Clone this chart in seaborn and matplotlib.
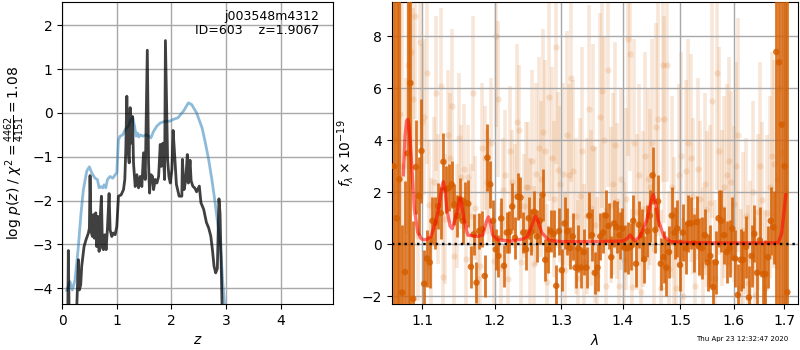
import numpy as np
import matplotlib
matplotlib.use('Agg')
import matplotlib.pyplot as plt
import seaborn as sns
from matplotlib.ticker import FixedLocator, FormatStrFormatter, NullLocator, NullFormatter

# ---------------- left panel: redshift probability ----------------
z_pz = [0.100, 0.110, 0.125, 0.260, 0.294, 0.312, 0.337, 0.355, 0.398, 0.435,
        0.478, 0.496, 0.508, 0.527, 0.551, 0.570, 0.588, 0.612, 0.631, 0.649,
        0.674, 0.692, 0.716, 0.735, 0.753, 0.778, 0.802, 0.827, 0.857, 0.876,
        0.906, 0.937, 0.968, 0.998, 1.029, 1.078, 1.121, 1.145, 1.163, 1.182,
        1.200, 1.225, 1.243, 1.261, 1.286, 1.304, 1.335, 1.366, 1.396, 1.427,
        1.457, 1.488, 1.519, 1.557, 1.580, 1.598, 1.623, 1.653, 1.672, 1.702,
        1.733, 1.764, 1.794, 1.813, 1.843, 1.874, 1.889, 1.929, 1.953, 1.978,
        2.008, 2.030, 2.060, 2.090, 2.140, 2.190, 2.200, 2.230, 2.260, 2.290,
        2.310, 2.340, 2.360, 2.390, 2.430, 2.460, 2.510, 2.540, 2.590, 2.640,
        2.680, 2.720, 2.750, 2.780, 2.810, 2.840, 2.870, 2.890, 2.910, 2.930]
logp_pz = [-4.6, -3.14, -4.6, -4.6, -3.35, -4.04, -3.92, -3.50, -3.05, -2.89,
           -2.74, -2.63, -1.43, -2.70, -2.82, -2.32, -2.86, -2.28, -3.05, -2.36,
           -3.16, -2.44, -1.90, -3.08, -3.12, -2.78, -3.12, -2.63, -1.84, -2.67,
           -2.82, -2.74, -2.78, -2.59, -1.90, -1.87, -1.75, -1.52, -0.84, 0.38,
           -0.76, -1.14, 0.12, -0.69, -0.08, -1.14, -1.68, -1.41, -1.71, -1.45,
           -1.68, -0.91, -1.52, 1.43, -1.14, -1.83, -1.41, -1.45, -1.75, -1.52,
           -1.60, -1.45, -0.72, -1.22, -0.69, -1.52, 1.65, -1.07, -1.45, -1.60,
           -1.29, -0.40, -1.00, -1.63, -1.90, -1.90, -1.06, -1.75, -1.55, -0.95,
           -1.60, -1.08, -1.55, -1.67, -1.72, -1.80, -1.67, -2.05, -2.20, -2.50,
           -2.62, -2.81, -3.12, -3.50, -3.65, -3.55, -1.96, -2.30, -3.42, -4.60]

z_chi = [0.080, 0.141, 0.184, 0.233, 0.294, 0.343, 0.386, 0.447, 0.496, 0.539,
         0.600, 0.643, 0.674, 0.704, 0.741, 0.765, 0.796, 0.827, 0.876, 0.925,
         0.968, 0.998, 1.029, 1.059, 1.108, 1.151, 1.212, 1.255, 1.292, 1.323,
         1.353, 1.378, 1.402, 1.427, 1.476, 1.537, 1.580, 1.623, 1.672, 1.733,
         1.794, 1.886, 1.970, 2.030, 2.120, 2.220, 2.310, 2.370, 2.460, 2.560,
         2.620, 2.680, 2.740, 2.800, 2.860, 2.910, 2.940, 2.970, 3.000]
logp_chi = [-4.05, -3.85, -4.04, -3.81, -3.05, -2.28, -1.75, -1.33, -1.23, -1.37,
            -1.49, -1.52, -1.71, -1.68, -1.71, -1.64, -1.71, -1.52, -1.45, -1.49,
            -1.41, -1.37, -0.61, -0.53, -0.50, -0.38, -0.30, -0.15, -0.11, -0.30,
            -0.53, -0.46, -0.55, -0.50, -0.53, -0.50, -0.53, -0.57, -0.42, -0.30,
            -0.23, -0.19, -0.19, -0.15, -0.11, 0.04, 0.23, 0.19, 0.00, -0.34,
            -0.68, -1.06, -1.52, -2.05, -2.66, -3.27, -3.88, -4.33, -4.90]

z_ticks = [0, 1, 2, 3, 4]
logp_ticks = [-4, -3, -2, -1, 0, 1, 2]
label_text = "j003548m4312\nID=603    z=1.9067"

# ---------------- right panel: spectrum ----------------
bin_range = (1.0631, 1.7068)
bin_flux = [3.0, 1.0, 2.5, -1.86, -1.07, 3.5, 6.2, -2.1, 2.97, 1.86,
            3.59, -1.52, -0.55, -0.7, 0.9, 0.83, 1.47, 1.2, 3.17, 2.1,
            2.17, 2.3, 1.53, 1.09, 1.73, 0.9, 1.6, 1.56, -0.87, 0.38,
            -1.48, 0.51, 0.58, -1.22, 3.33, 2.3, 0.9, -0.2, -0.45, 0.99,
            -0.83, 0.45, 0.47, 1.45, 0.25, 1.83, 1.8, 0.45, -0.2, 1.0,
            0.47, 1.25, 0.3, 0.9, 1.9, -0.6, -0.2, 0.5, 0.4, -1.6,
            0.5, -1.0, 0.8, 0.5, -0.15, 0.3, -0.9, -0.15, -0.9, -0.3,
            -0.9, 1.1, 0.35, -1.1, -0.9, 0.3, 0.45, 1.1, 0.7, -0.5,
            0.8, 0.65, 0.35, 0.6, -0.15, -0.15, -0.1, 0.9, -0.75, 0.75,
            0.35, -0.58, 0.5, 1.1, 2.65, 0.55, 1.65, -0.75, -0.5, -0.9,
            -0.3, 1.1, 0.45, 0.6, -0.8, 0.45, -0.15, 0.8, 0.8, 0.05,
            0.85, -0.1, -0.15, 0.35, -0.7, -0.45, -1.65, -0.7, 1.0, 0.9,
            0.35, -0.3, -0.15, 0.6, -0.55, -1.95, -0.6, -0.6, -0.1, -2.05,
            -0.45, 0.4, -1.1, 0.15, -1.15, -1.15, -0.5, 0.9, 0.65, 7.4,
            7.0, 4.6, 3.0, -1.85]
bin_err = [15, 15, 12, 2.6, 3.5, 15, 12, 3.0, 1.8, 1.5,
           2.0, 1.3, 1.1, 1.0, 0.9, 1.0, 0.9, 1.0, 1.1, 0.9,
           0.9, 0.9, 0.8, 0.8, 0.8, 0.9, 0.8, 0.9, 0.8, 0.8,
           0.8, 0.7, 0.7, 0.8, 1.3, 0.9, 0.8, 0.8, 0.8, 0.8,
           0.8, 0.8, 0.8, 0.9, 0.8, 0.9, 0.8, 0.8, 0.8, 0.8,
           0.9, 0.8, 1.0, 0.9, 1.0, 0.8, 0.9, 0.8, 0.9, 0.8,
           0.9, 0.8, 1.0, 0.9, 0.8, 0.9, 0.8, 0.9, 0.8, 0.9,
           0.8, 0.9, 1.0, 0.8, 0.9, 0.9, 0.8, 1.0, 0.9, 0.8,
           0.9, 1.0, 0.9, 0.8, 0.9, 1.0, 0.9, 1.0, 0.9, 0.9,
           1.0, 0.9, 1.0, 1.0, 1.1, 0.9, 1.0, 1.0, 1.0, 1.1,
           1.0, 1.1, 1.0, 1.1, 1.0, 1.1, 1.0, 1.1, 1.0, 1.1,
           1.0, 1.1, 1.2, 1.0, 1.1, 1.2, 1.1, 1.2, 1.1, 1.2,
           1.1, 1.2, 1.1, 1.2, 1.1, 1.2, 1.2, 1.1, 1.2, 1.2,
           1.2, 1.1, 1.2, 1.3, 1.2, 1.3, 1.2, 1.3, 1.4, 10,
           10, 8, 12, 15]

faint_edge_wave = [1.0615, 1.0645, 1.0675, 1.0705, 1.0740, 1.6900, 1.6960, 1.7020]
faint_edge_flux = [2.0, 4.0, 1.0, 5.0, 3.0, 6.0, 3.5, 2.0]
faint_edge_err = [15, 15, 15, 15, 15, 12, 12, 12]

faint1_range = (1.0786, 1.2498)
faint1_flux = [3.4, 6.9, 7.4, 5.6, 8.8, 0.3, 7.8, 4.7, 4.9, 6.6,
               1.5, 0.06, 2.4, 5.8, 1.73, 6.1, -1.28, 0.96, 4.2, 3.3,
               5.3, -0.45, 1.1, 4.1, 2.6, 2.9, -0.58, 2.6, 1.1, 5.8,
               1.41, -1.35, -0.83, 3.7, 3.3, 2.4, 2.1, 3.9, -0.64, 8.0,
               5.6, -0.9, 2.1, 2.65, -1.35, 3.6, 2.4, 1.86, 4.7, 4.4,
               -0.7, 1.47, 2.2, 2.2]
faint1_err = [3.0, 4.0, 4.5, 3.5, 4.0, 2.5, 4.0, 3.0, 3.0, 3.5,
              2.5, 2.5, 2.5, 3.0, 2.5, 3.0, 2.5, 2.5, 2.5, 2.5,
              3.0, 2.0, 2.0, 2.5, 2.0, 2.5, 2.0, 2.0, 2.0, 3.0,
              2.0, 2.5, 2.0, 2.5, 2.0, 2.0, 2.0, 2.5, 2.0, 3.5,
              3.0, 2.5, 2.0, 2.5, 2.5, 2.5, 2.0, 2.0, 3.0, 2.5,
              2.5, 2.0, 2.5, 2.5]

faint2_range = (1.2520, 1.4693)
faint2_flux = [0.3, 3.2, -0.75, 2.7, 3.7, 2.5, 4.3, 3.6, -1.45, 5.65,
               3.3, 1.75, 7.6, 2.85, 2.3, 2.7, -1.0, 4.2, 2.65, 6.4,
               2.8, 1.1, -1.3, 1.85, 3.6, -0.7, 1.1, 5.2, 1.4, 3.7,
               0.73, -1.2, 4.9, 5.9, 4.0, -1.6, 6.7, 1.5, 2.3, 3.8,
               1.65, -1.6, 2.5, -0.6, 1.75, 7.9, 7.3, -1.65, 3.9, 1.25,
               2.65, -1.85, 1.37, 3.4, 2.5, 2.2, 3.9, -0.2, 4.5, 4.8,
               -1.7, 6.9]
faint2_err = [3.0, 3.5, 3.0, 3.5, 3.5, 3.0, 4.0, 3.5, 3.0, 4.0,
              3.5, 3.0, 4.5, 3.0, 3.0, 3.5, 3.0, 4.0, 3.5, 4.0,
              3.5, 3.0, 3.0, 3.0, 4.0, 3.0, 3.0, 4.0, 3.0, 4.0,
              3.0, 3.0, 4.0, 4.5, 4.0, 3.0, 4.5, 3.0, 3.5, 4.0,
              3.0, 3.0, 3.5, 3.0, 3.5, 4.5, 4.5, 3.0, 4.0, 3.0,
              3.5, 3.0, 3.0, 4.0, 3.5, 3.0, 4.0, 3.0, 4.0, 4.5,
              3.0, 4.5]

faint3_range = (1.4720, 1.6852)
faint3_flux = [4.8, 6.9, -0.95, 2.2, 0.35, -1.7, 2.65, 3.4, -2.0, 2.8,
               3.9, 3.3, 1.85, -1.6, 2.9, 1.75, -0.8, 2.3, 1.35, 1.6,
               5.5, -1.3, 6.6, 3.6, 1.4, 2.2, 2.65, 3.2, 2.4, 1.55,
               3.0, 4.2, -1.65, 0.55, 1.1, -1.5, -0.55, 2.0, -1.95, 1.25,
               3.0, 1.7, -1.7, 1.2, 2.2, 3.4, 3.1, 2.5]
faint3_err = [4.0, 4.5, 3.0, 3.5, 3.0, 3.0, 3.5, 4.0, 3.0, 3.5,
              4.0, 4.0, 3.0, 3.0, 3.5, 3.0, 3.0, 3.5, 3.0, 3.0,
              4.5, 3.0, 4.5, 4.0, 3.0, 3.5, 3.5, 4.0, 3.5, 3.0,
              4.0, 4.5, 3.0, 3.0, 3.0, 3.0, 3.0, 3.5, 3.0, 3.0,
              4.0, 3.0, 3.0, 3.0, 3.5, 4.0, 4.0, 3.5]

model_wave = [1.0751, 1.0775, 1.0795, 1.0808, 1.0825, 1.0851, 1.0895, 1.0940, 1.0990, 1.1026,
              1.1070, 1.1115, 1.1181, 1.1226, 1.1260, 1.1282, 1.1305, 1.1329, 1.1374, 1.1404,
              1.1467, 1.1495, 1.1512, 1.1530, 1.1566, 1.1620, 1.1748, 1.1830, 1.1880, 1.1911,
              1.1940, 1.1972, 1.2041, 1.2228, 1.2416, 1.2482, 1.2550, 1.2590, 1.2609, 1.2640,
              1.2700, 1.2808, 1.3000, 1.3500, 1.4000, 1.4080, 1.4124, 1.4170, 1.4209, 1.4294,
              1.4409, 1.4480, 1.4526, 1.4570, 1.4616, 1.4712, 1.4827, 1.5200, 1.5800, 1.6400,
              1.6884, 1.6950, 1.7007, 1.7036]
model_flux = [2.67, 4.20, 4.75, 4.80, 4.55, 3.50, 1.35, 0.45, 0.20, 0.17,
              0.20, 0.30, 0.88, 1.50, 2.20, 2.40, 2.10, 1.35, 0.70, 0.60,
              1.20, 1.60, 1.77, 1.60, 0.95, 0.35, 0.30, 0.35, 0.85, 1.05,
              0.80, 0.35, 0.17, 0.12, 0.20, 0.30, 0.70, 1.02, 1.08, 0.90,
              0.45, 0.15, 0.10, 0.10, 0.12, 0.22, 0.36, 0.22, 0.13, 0.30,
              0.90, 1.60, 1.92, 1.55, 0.90, 0.30, 0.10, 0.06, 0.05, 0.05,
              0.06, 0.40, 1.40, 1.90]

wave_ticks = [1.1, 1.2, 1.3, 1.4, 1.5, 1.6, 1.7]
flux_ticks = [-2, 0, 2, 4, 6, 8]
timestamp = "Thu Apr 23 12:32:47 2020"

# ---------------- figure ----------------
G141 = (0.835, 0.369, 0.0)
grid_kw = dict(color='#a8a8a8', lw=1.0)

fig = plt.figure(figsize=(8, 3.5), dpi=100)
ax1 = fig.add_axes([0.0779, 0.1314, 0.3384, 0.8629])
ax2 = fig.add_axes([0.4896, 0.1314, 0.5083, 0.8629])

sns.lineplot(x=z_chi, y=logp_chi, ax=ax1, color='tab:blue', alpha=0.5, lw=2,
             sort=False, estimator=None)
sns.lineplot(x=z_pz, y=logp_pz, ax=ax1, color='k', alpha=0.75, lw=2,
             sort=False, estimator=None)
ax1.set_xlim(0, 4.96)
ax1.set_ylim(-4.36, 2.53)
ax1.set_xticks(z_ticks)
ax1.set_yticks(logp_ticks)
ax1.grid(True, **grid_kw)
ax1.set_xlabel('$z$')
ax1.set_ylabel(r'log $p(z)$ / $\chi^2=\frac{4462}{4151}=1.08$')
ax1.text(0.948, 0.975, label_text, transform=ax1.transAxes, ha='right', va='top',
         fontsize=9, linespacing=1.15)

# faint unbinned spectrum
faint_sets = [(np.geomspace(*faint1_range, len(faint1_flux)), faint1_flux, faint1_err),
              (np.geomspace(*faint2_range, len(faint2_flux)), faint2_flux, faint2_err),
              (np.geomspace(*faint3_range, len(faint3_flux)), faint3_flux, faint3_err),
              (np.array(faint_edge_wave), faint_edge_flux, faint_edge_err)]
for w, f, e in faint_sets:
    ax2.errorbar(w, f, yerr=e, fmt='o', color=G141, alpha=0.15, ms=4.5,
                 elinewidth=2.6, capsize=0, zorder=1, mew=0)

bin_wave = np.geomspace(*bin_range, len(bin_flux))
ax2.errorbar(bin_wave, bin_flux, yerr=bin_err, fmt='none', ecolor=G141, alpha=0.85,
             elinewidth=2.0, capsize=0, zorder=3)
sns.scatterplot(x=bin_wave, y=bin_flux, ax=ax2, color=G141, alpha=0.85, s=22,
                edgecolor='none', zorder=3)

sns.lineplot(x=model_wave, y=model_flux, ax=ax2, color='r', alpha=0.55, lw=2.4,
             sort=False, estimator=None, zorder=4)
ax2.axhline(0, color='k', ls=':', lw=1.7, zorder=5)

ax2.set_xscale('log')
ax2.set_xlim(1.0602, 1.7295)
ax2.set_ylim(-2.3, 9.32)
ax2.xaxis.set_major_locator(FixedLocator(wave_ticks))
ax2.xaxis.set_major_formatter(FormatStrFormatter('%.1f'))
ax2.xaxis.set_minor_locator(NullLocator())
ax2.xaxis.set_minor_formatter(NullFormatter())
ax2.set_yticks(flux_ticks)
ax2.grid(True, **grid_kw)
ax2.set_xlabel(r'$\lambda$')
ax2.set_ylabel(r'$f_\lambda \times 10^{-19}$')

fig.text(0.985, 0.031, timestamp, ha='right', va='center', fontsize=5)

fig.savefig('out.png', dpi=100)
